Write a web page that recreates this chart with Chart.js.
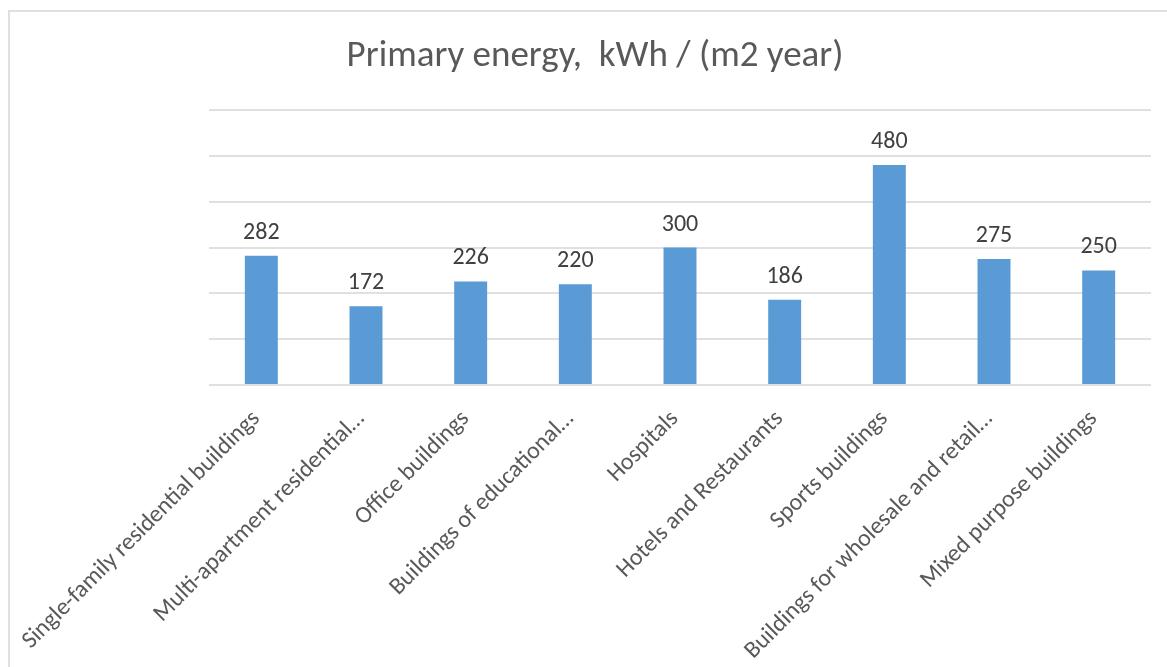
<!DOCTYPE html>
<html>
<head>
<meta charset="utf-8">
<title>Primary energy</title>
<script src="https://cdn.jsdelivr.net/npm/chart.js@4.4.1/dist/chart.umd.min.js"></script>
<style>
  html, body { margin: 0; padding: 0; background: #ffffff; overflow: hidden; }
  #frame {
    position: absolute; left: 8px; top: 10px; width: 1400px; height: 900px;
    border-top: 2px solid #e0e0e0; border-left: 2px solid #e0e0e0;
  }
  #wrap { position: absolute; left: 0; top: 0; width: 1167px; height: 667px; }
</style>
</head>
<body>
<div id="frame"></div>
<div id="wrap"><canvas id="chart" width="1167" height="667"></canvas></div>
<script>
// Building categories and their primary energy demand, kWh / (m2 year)
const categories = [
  "Single-family residential buildings",
  "Multi-apartment residential\u2026",
  "Office buildings",
  "Buildings of educational\u2026",
  "Hospitals",
  "Hotels and Restaurants",
  "Sports buildings",
  "Buildings for wholesale and retail\u2026",
  "Mixed purpose buildings"
];
const primaryEnergy = [282, 172, 226, 220, 300, 186, 480, 275, 250];
const chartTitle = "Primary energy,  kWh / (m2 year)";

const FONT = "Carlito, Lato, 'Open Sans', sans-serif";

// Title centred across the whole frame rather than only over the plot
const frameTitle = {
  id: 'frameTitle',
  afterDraw(chart) {
    const ctx = chart.ctx;
    ctx.save();
    ctx.font = "37px " + FONT;
    ctx.fillStyle = "#595959";
    ctx.textAlign = "center";
    ctx.textBaseline = "alphabetic";
    ctx.fillText(chartTitle, 595, 66);
    ctx.restore();
  }
};

// Writes each bar's value above it
const valueLabels = {
  id: 'valueLabels',
  afterDatasetsDraw(chart) {
    const ctx = chart.ctx;
    const meta = chart.getDatasetMeta(0);
    ctx.save();
    ctx.font = "24px " + FONT;
    ctx.fillStyle = "#404040";
    ctx.textAlign = "center";
    ctx.textBaseline = "alphabetic";
    meta.data.forEach((bar, i) => {
      ctx.fillText(String(primaryEnergy[i]), bar.x, bar.y - 17);
    });
    ctx.restore();
  }
};

new Chart(document.getElementById('chart'), {
  type: 'bar',
  data: {
    labels: categories,
    datasets: [{
      data: primaryEnergy,
      backgroundColor: '#5b9bd5',
      borderWidth: 0,
      barPercentage: 0.315,
      categoryPercentage: 1.0
    }]
  },
  options: {
    responsive: false,
    animation: false,
    events: [],
    layout: { padding: { left: 209, right: 16, top: 110, bottom: 0 } },
    plugins: {
      legend: { display: false },
      tooltip: { enabled: false },
      title: { display: false }
    },
    scales: {
      x: {
        grid: { display: false },
        border: { display: false },
        ticks: {
          color: '#595959',
          font: { family: FONT, size: 24 },
          minRotation: 45,
          maxRotation: 45,
          autoSkip: false,
          padding: 12,
          labelOffset: -5
        },
        afterFit(scale) { scale.height = 282; }
      },
      y: {
        min: 0,
        max: 600,
        ticks: { display: false, stepSize: 100 },
        border: { display: false },
        grid: { color: '#e0e0e0', lineWidth: 2, drawTicks: false },
        afterFit(scale) { scale.width = 0; }
      }
    }
  },
  plugins: [valueLabels, frameTitle]
});
</script>
</body>
</html>
